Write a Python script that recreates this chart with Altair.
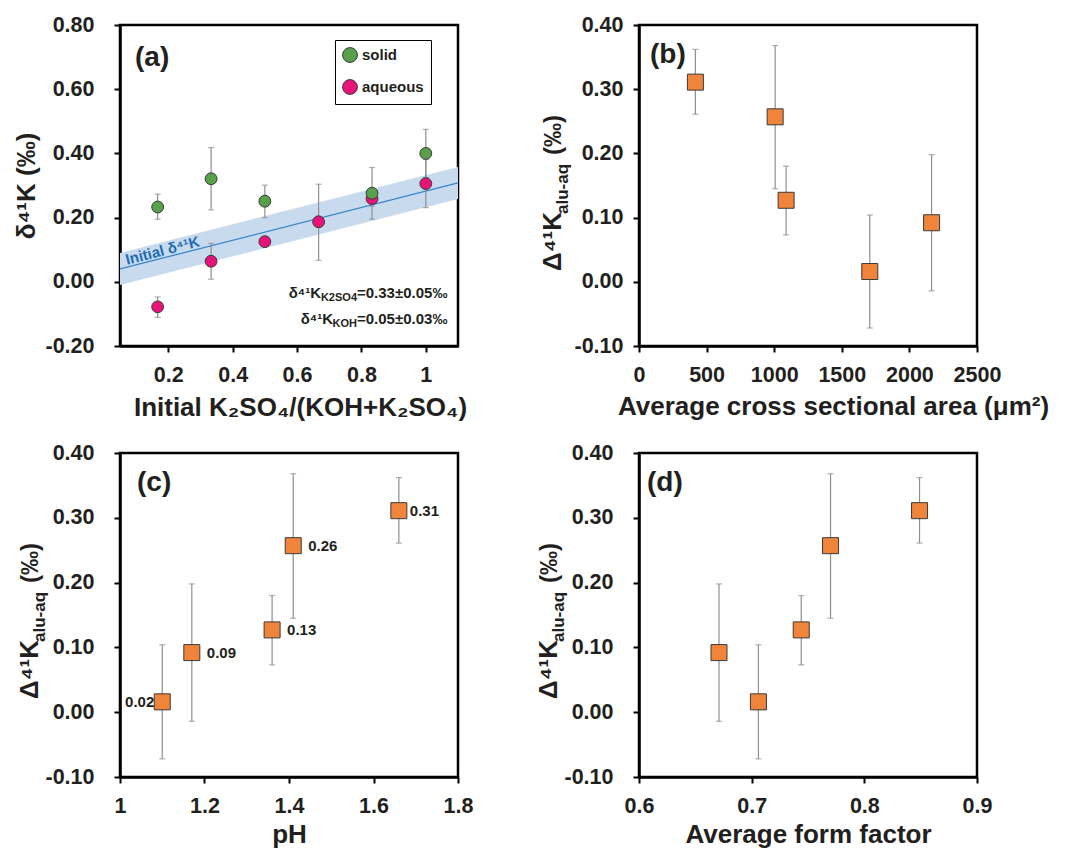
import altair as alt
import pandas as pd

FONT = "Liberation Sans"
TXT = "#231f20"
GREEN = "#58a04a"
PINK = "#e8137a"
ORANGE = "#f0843a"
EDGE = "#3a3a3a"
ERR = "#8f8f8f"
BAND = "#c8dbee"
LINE = "#3a86cc"
BLUE_TXT = "#1f6db3"

W = 338
H1 = 321
H2 = 324

# ---------------- panel (a) data ----------------
solid_x = [0.167, 0.333, 0.5, 0.833, 1.0]
solid_y = [0.233, 0.321, 0.251, 0.276, 0.400]
solid_lo = [0.195, 0.224, 0.200, 0.195, 0.325]
solid_hi = [0.273, 0.418, 0.301, 0.356, 0.475]

aq_x = [0.167, 0.333, 0.5, 0.667, 0.833, 1.0]
aq_y = [-0.078, 0.064, 0.125, 0.187, 0.259, 0.306]
aq_lo = [-0.111, 0.008, 0.115, 0.067, 0.235, 0.231]
aq_hi = [-0.047, 0.120, 0.135, 0.304, 0.285, 0.381]

init_x = [0.05, 1.1]
init_y = [0.040, 0.308]
init_lo = [-0.010, 0.258]
init_hi = [0.090, 0.358]

# ---------------- panels (b)-(d) data ----------------
area = [417, 1007, 1088, 1707, 2164]
ph = [1.66, 1.41, 1.36, 1.10, 1.17]
form = [0.849, 0.770, 0.744, 0.706, 0.671]
d41 = [0.311, 0.257, 0.127, 0.016, 0.092]
d41_lo = [0.261, 0.145, 0.073, -0.072, -0.014]
d41_hi = [0.362, 0.368, 0.180, 0.104, 0.198]
d41_txt = ["0.31", "0.26", "0.13", "0.02", "0.09"]
txt_side = ["near", "right", "right", "left", "right"]

YLAB = "replace(format(datum.value, '.2f'), '\u2212', '-')"

# ================= panel (a) =================
a_df = pd.DataFrame({
    "series": ["aqueous"] * len(aq_x) + ["solid"] * len(solid_x),
    "x": aq_x + solid_x,
    "y": aq_y + solid_y,
    "lo": aq_lo + solid_lo,
    "hi": aq_hi + solid_hi,
})
init_df = pd.DataFrame({"x": init_x, "y": init_y, "lo": init_lo, "hi": init_hi})

xa_axis = alt.Axis(values=[0.2, 0.4, 0.6, 0.8, 1.0], format="~g",
                   title="Initial K₂SO₄/(KOH+K₂SO₄)", titleX=W / 2 + 11,
                   labelPadding=12, titlePadding=9)
ya_axis = alt.Axis(values=[-0.2, 0.0, 0.2, 0.4, 0.6, 0.8], labelExpr=YLAB,
                   title="δ⁴¹K (‰)", labelPadding=20, titlePadding=5)
xa_scale = alt.Scale(domain=[0.05, 1.1], nice=False, zero=False)
ya_scale = alt.Scale(domain=[-0.2, 0.8], nice=False, zero=False)


def XA(f):
    return alt.X(f"{f}:Q", scale=xa_scale, axis=xa_axis)


def YA(f):
    return alt.Y(f"{f}:Q", scale=ya_scale, axis=ya_axis)


a_band = alt.Chart(init_df).mark_area(color=BAND, opacity=1).encode(
    x=XA("x"), y=YA("lo"), y2="hi:Q")
a_line = alt.Chart(init_df).mark_line(color=LINE, strokeWidth=1.3).encode(
    x=XA("x"), y=YA("y"))
a_err = alt.Chart(a_df).mark_rule(color=ERR, strokeWidth=1.2).encode(
    x=XA("x"), y=YA("lo"), y2="hi:Q")
a_cap_lo = alt.Chart(a_df).mark_tick(orient="horizontal", size=6, thickness=1.2, color=ERR).encode(
    x=XA("x"), y=YA("lo"))
a_cap_hi = alt.Chart(a_df).mark_tick(orient="horizontal", size=6, thickness=1.2, color=ERR).encode(
    x=XA("x"), y=YA("hi"))
a_pts = alt.Chart(a_df).mark_point(filled=True, shape="circle", size=140, opacity=1,
                                   stroke=EDGE, strokeWidth=1).encode(
    x=XA("x"), y=YA("y"),
    color=alt.Color("series:N",
                    scale=alt.Scale(domain=["solid", "aqueous"], range=[GREEN, PINK]),
                    legend=alt.Legend(title=None, orient="none", legendX=215, legendY=15,
                                      strokeColor="black", fillColor="white", padding=7,
                                      symbolType="circle", symbolSize=220,
                                      symbolStrokeColor=EDGE, symbolStrokeWidth=1,
                                      labelFont=FONT, labelFontSize=15, labelFontWeight="bold",
                                      labelColor=TXT, labelOffset=4, rowPadding=12)))

init_lab = pd.DataFrame({"x": [0.072], "y": [0.053], "t": ["Initial δ⁴¹K"]})
a_init_txt = alt.Chart(init_lab).mark_text(
    angle=345.6, align="left", baseline="alphabetic", font=FONT, fontSize=15,
    fontWeight="bold", color=BLUE_TXT).encode(x=XA("x"), y=YA("y"), text="t:N")


def txt(s, x, y, size, align="left", baseline="alphabetic", angle=0, color=TXT):
    d = pd.DataFrame({"t": [s]})
    kw = dict(align=align, baseline=baseline, font=FONT, fontSize=size,
              fontWeight="bold", color=color)
    if angle:
        kw["angle"] = angle
    return alt.Chart(d).mark_text(**kw).encode(
        x=alt.value(x), y=alt.value(y), text="t:N")


a_ann = [
    txt("δ⁴¹K", 201, 273, 15, align="right"),
    txt("K2SO4", 237, 276, 11, align="right"),
    txt("=0.33±0.05‰", 237, 273, 15, align="left"),
    txt("δ⁴¹K", 213, 299, 15, align="right"),
    txt("KOH", 237, 302, 11, align="right"),
    txt("=0.05±0.03‰", 237, 299, 15, align="left"),
]

panel_a = alt.layer(
    a_band, a_line, a_err, a_cap_lo, a_cap_hi, a_pts, a_init_txt,
    txt("(a)", 15, 33, 28, baseline="middle"), *a_ann
).properties(width=W, height=H1)

# ================= panels (b)-(d) =================
dd = pd.DataFrame({"area": area, "ph": ph, "form": form, "d": d41,
                   "lo": d41_lo, "hi": d41_hi, "lab": d41_txt, "side": txt_side})


def delta_panel(xfield, xdomain, xvals, xfmt, xtitle, letter, letter_x, ylabpad,
                title_x, height, xtitle_shift=0, labels=False, tpad=8):
    x_axis = alt.Axis(values=xvals, format=xfmt, title=xtitle, titleX=W / 2 + xtitle_shift,
                      labelPadding=12, titlePadding=tpad)
    y_axis = alt.Axis(values=[-0.1, 0.0, 0.1, 0.2, 0.3, 0.4], labelExpr=YLAB,
                      title=None, labelPadding=ylabpad)
    xs = alt.Scale(domain=xdomain, nice=False, zero=False)
    ys = alt.Scale(domain=[-0.1, 0.4], nice=False, zero=False)

    def X():
        return alt.X(f"{xfield}:Q", scale=xs, axis=x_axis)

    def Y(f):
        return alt.Y(f"{f}:Q", scale=ys, axis=y_axis)

    base = alt.Chart(dd)
    layers = [
        base.mark_rule(color=ERR, strokeWidth=1.2).encode(x=X(), y=Y("lo"), y2="hi:Q"),
        base.mark_tick(orient="horizontal", size=6, thickness=1.2, color=ERR).encode(x=X(), y=Y("lo")),
        base.mark_tick(orient="horizontal", size=6, thickness=1.2, color=ERR).encode(x=X(), y=Y("hi")),
        base.mark_point(shape="square", filled=True, size=256, opacity=1, fill=ORANGE,
                        stroke=EDGE, strokeWidth=1).encode(x=X(), y=Y("d")),
    ]
    if labels:
        for side, al, dx in [("near", "left", 11), ("right", "left", 15), ("left", "right", -8)]:
            layers.append(
                base.transform_filter(alt.datum.side == side).mark_text(
                    align=al, baseline="middle", dx=dx, font=FONT, fontSize=15,
                    fontWeight="bold", color=TXT).encode(x=X(), y=Y("d"), text="lab:N"))
    layers += [
        txt(letter, letter_x, 30, 28, baseline="middle"),
        txt("Δ⁴¹K", title_x, 246, 26, angle=270),
        txt("alu-aq", title_x + 7, 189, 17, angle=270),
        txt("(‰)", title_x, 130, 24, angle=270),
    ]
    return alt.layer(*layers).properties(width=W, height=height)


panel_b = delta_panel("area", [0, 2500], [0, 500, 1000, 1500, 2000, 2500], "d",
                      "Average cross sectional area (μm²)", "(b)", 11, 10, -78, H1,
                      xtitle_shift=25)
panel_c = delta_panel("ph", [1.0, 1.8], [1.0, 1.2, 1.4, 1.6, 1.8], "~g", "pH",
                      "(c)", 17, 20, -82, H2, labels=True, tpad=5)
panel_d = delta_panel("form", [0.6, 0.9], [0.6, 0.7, 0.8, 0.9], ".1f",
                      "Average form factor", "(d)", 8, 20, -82, H2, tpad=5)

chart = alt.concat(
    panel_a, panel_b, panel_c, panel_d, columns=2,
    spacing={"row": 18, "column": 59}
).resolve_scale(
    color="independent"
).properties(
    padding={"left": 12, "top": 12, "right": 5, "bottom": 5},
    background="white"
).configure_view(
    stroke="black", strokeWidth=2.5
).configure_axis(
    grid=False, domainColor="black", domainWidth=2.5, tickColor="black",
    tickWidth=2, tickSize=6, labelFont=FONT, labelFontSize=21.5, labelFontWeight="bold",
    labelColor=TXT, titleFont=FONT, titleFontSize=26, titleFontWeight="bold",
    titleColor=TXT, labelFlush=False, labelOverlap=False
)

chart.save("out.html", embed_options={"renderer": "svg", "actions": False})
